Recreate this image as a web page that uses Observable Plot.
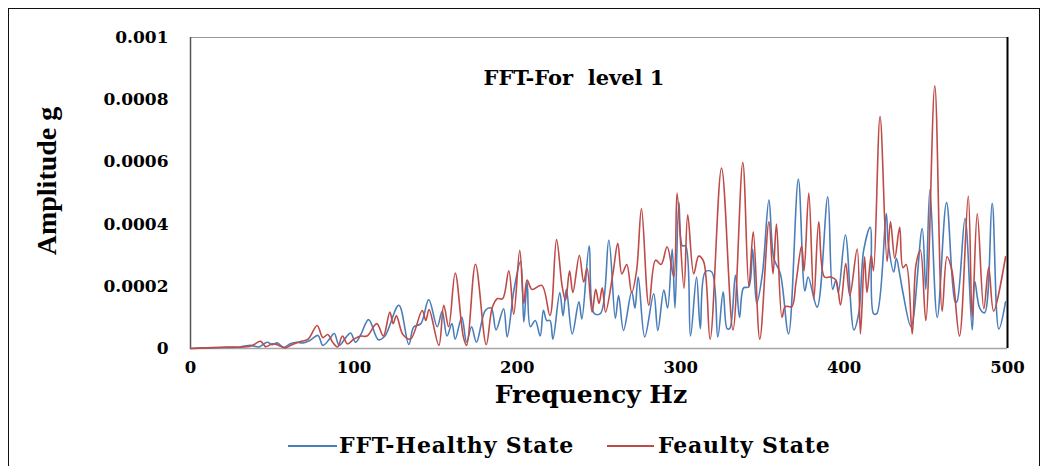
<!DOCTYPE html>
<html><head><meta charset="utf-8">
<script src="https://cdn.jsdelivr.net/npm/d3@7"></script>
<script src="https://cdn.jsdelivr.net/npm/@observablehq/plot@0.6"></script>
<style>
body{margin:0;background:#fff;}
#wrap{position:relative;width:1043px;height:466px;overflow:hidden;background:#fff;}
#frame{position:absolute;left:8px;top:8px;width:1032px;height:470px;border:1.5px solid #111;box-sizing:border-box;pointer-events:none;}
.lg-line{position:absolute;height:2px;}
.lg-text{position:absolute;font:bold 22px "DejaVu Serif",serif;letter-spacing:0.8px;line-height:22px;color:#000;white-space:pre;}
svg text{white-space:pre;}
</style>
</head><body>
<div id="wrap">
  <div id="chart"></div>
  <div id="frame"></div>
  <div class="lg-line" style="left:288px;top:445px;width:49px;background:#4a7ebb"></div>
  <div class="lg-text" style="left:339px;top:434px">FFT-Healthy State</div>
  <div class="lg-line" style="left:607px;top:445px;width:47px;background:#be4b48"></div>
  <div class="lg-text" style="left:658px;top:434px">Feaulty State</div>
</div>
<script>
// Amplitudes are in units of 1e-4 g; frequency in Hz
const ampUnit = 1e-4;
const healthy = [[0,0],[10,0.02],[20,0.03],[30,0.05],[37,0.1],[42,0.05],[47,0.2],[50,0.12],[53,0.18],[57,0.03],[61,0.15],[65,0.2],[69,0.18],[73,0.26],[78,0.42],[81,0.1],[85,0.3],[88,0.48],[91,0.1],[95,0.35],[98,0.5],[101,0.2],[104,0.42],[109,0.93],[115,0.28],[119,0.4],[127.5,1.39],[133.6,0.13],[136.6,0.69],[141,0.8],[145.8,1.57],[151,0.7],[154,1.2],[157,0.4],[160,0.8],[162,0.3],[166,1.0],[169,0.2],[172,0.7],[175,0.2],[180.5,1.23],[184,1.3],[187,0.6],[191.6,1.28],[193.8,0.37],[198,1.9],[202,2.8],[204,0.85],[206,2.14],[208,0.7],[211,0.9],[214,0.4],[216,1.23],[218,0.9],[220,0.9],[221.8,0.3],[226,1.8],[228,1.05],[230,1.9],[233.6,0.47],[237.7,1.5],[239.5,0.95],[244,3.3],[247,1.13],[251,1.13],[256,3.48],[260,0.97],[262,1.7],[265,0.58],[270,1.83],[272,1.3],[274,2.3],[278,0.37],[283.5,1.76],[286,0.58],[289.7,1.88],[292,1.3],[294.8,3.2],[296.5,1.3],[298.9,4.7],[301,3.3],[303,3.3],[306,0.4],[309.7,2.3],[312,0.64],[315,2.46],[319,2.46],[322.7,0.37],[326,1.82],[328.4,0.64],[330,0.64],[333.5,2.35],[336,1.0],[338.5,1.95],[341.6,1.98],[344,3.2],[346.5,1.45],[350,2.4],[354,4.77],[357,2.9],[361,2.4],[366,0.47],[372,5.44],[376,1.85],[378,2.3],[383.5,1.33],[390,4.88],[393,1.9],[395,2.2],[396.5,1.8],[400.8,3.65],[406,0.6],[409,1.15],[412,3.16],[416,3.9],[418,1.12],[420,1.12],[425.8,4.34],[427,3.4],[430.4,2.46],[432,2.9],[434,2.4],[436,1.8],[441,0.7],[447.8,3.86],[450,1.9],[452.5,5.1],[457,1.0],[462.7,4.69],[468,1.5],[469,1.5],[474,4.18],[478.4,0.6],[480,2.15],[483,1.3],[486,1.15],[490.6,4.67],[494.7,0.63],[498.8,1.5]];
const faulty = [[0,0],[10,0.02],[20,0.04],[24.5,0.05],[30,0.04],[37,0.08],[43,0.23],[46,0.06],[50,0.15],[54,0.1],[58,0.02],[62,0.12],[67,0.22],[72,0.3],[77.5,0.74],[81,0.35],[84,0.45],[87,0.2],[90,0.05],[93,0.4],[96,0.15],[100,0.3],[104,0.4],[108,0.4],[114,0.8],[118,0.4],[122,1.17],[124,0.8],[126,1.05],[130,0.45],[134.6,0.3],[141.8,1.22],[144,0.9],[146,1.25],[152,0.1],[155,1.39],[158,0.7],[162,2.43],[167,0.37],[169,0.1],[174.4,2.71],[181,0.13],[184.6,1.3],[187.7,1.6],[191,1.6],[194.8,2.5],[197.8,1.1],[201.5,3.16],[204,1.45],[206,2.2],[209,1.9],[215,2.03],[220,1.06],[224,3.5],[227.5,1.98],[229.5,1.55],[232,2.5],[234,1.8],[238,3.0],[240.6,2.14],[242.7,2.57],[245.8,1.17],[248,1.9],[250,1.45],[252,1.95],[254,1.17],[258.5,2.4],[261.5,3.38],[264,2.4],[267,2.7],[270,1.8],[273,2.5],[276,4.5],[280.5,1.39],[284.6,2.84],[288,2.7],[291.7,3.27],[295.8,2.3],[297.8,5.0],[302,1.94],[304.3,4.3],[308,2.4],[311,2.97],[314,2.8],[318,0.3],[325,5.8],[332,0.6],[338,5.98],[341.7,2.0],[344.4,3.75],[348.4,0.3],[354,4.07],[356.5,2.4],[358.6,4.0],[362,1.0],[364,1.35],[368,1.35],[370.5,2.1],[374,3.3],[375.5,2.5],[378.4,5.0],[381.5,1.6],[384.5,4.07],[388,2.3],[392,2.3],[395,2.2],[397.8,1.4],[401,2.73],[403.5,1.7],[408,3.2],[410,0.47],[412.5,2.95],[414,1.8],[416.6,3.0],[418,2.5],[422,7.46],[426.3,2.8],[428.4,4.07],[431,2.9],[434,3.9],[436,2.6],[438,2.7],[441.7,0.47],[444,2.7],[446.7,3.16],[450,0.9],[455.5,8.45],[460,1.2],[463,2.95],[466,2.5],[470.6,0.4],[476,4.9],[478.4,1.0],[481.5,4.34],[485.5,1.28],[488.5,2.6],[491.5,1.2],[498.8,2.95]];
const xTicks = [0, 100, 200, 300, 400, 500];
const yTicks = [0, 0.0002, 0.0004, 0.0006, 0.0008, 0.001];
const yTickLabels = ["0", "0.0002", "0.0004", "0.0006", "0.0008", "0.001"];
const titleText = "FFT-For  level 1";
const xTitle = "Frequency Hz";
const yTitle = "Amplitude g";

const toRows = (pts) => pts.map(([f, a]) => ({f, a: a * ampUnit}));

const chart = Plot.plot({
  width: 1043,
  height: 466,
  marginLeft: 190,
  marginRight: 36,
  marginTop: 37,
  marginBottom: 118,
  style: {fontFamily: "'DejaVu Serif', serif", fontWeight: "bold", fontSize: "16px", color: "#000", background: "#fff"},
  x: {domain: [0, 500]},
  y: {domain: [0, 0.001]},
  marks: [
    Plot.axisX({ticks: xTicks, tickSize: 0, tickPadding: 13, label: null, fontSize: 16.5}),
    Plot.axisY({ticks: yTicks, tickSize: 0, tickPadding: 22, label: null, fontSize: 17,
      tickFormat: (d) => yTickLabels[yTicks.indexOf(d)] ?? String(d)}),
    Plot.ruleY([0.001], {stroke: "#9a9a9a", strokeWidth: 1}),
    Plot.ruleY([0], {stroke: "#a6a6a6", strokeWidth: 1.5}),
    Plot.ruleX([0], {stroke: "#555", strokeWidth: 1.5}),
    Plot.ruleX([500], {stroke: "#000", strokeWidth: 2}),
    Plot.line(toRows(healthy), {x: "f", y: "a", stroke: "#4a7ebb", strokeWidth: 1.6, curve: "catmull-rom"}),
    Plot.line(toRows(faulty), {x: "f", y: "a", stroke: "#be4b48", strokeWidth: 1.6, curve: "catmull-rom"}),
    Plot.text([titleText], {text: d => d, frameAnchor: "top", dx: -25, dy: 33, fontSize: 21, fontWeight: "bold"}),
    Plot.text([xTitle], {text: d => d, frameAnchor: "bottom", dx: -8, dy: 54, fontSize: 25, fontWeight: "bold"}),
    Plot.text([yTitle], {text: d => d, frameAnchor: "left", textAnchor: "middle", dx: -143, dy: -12, rotate: -90, fontSize: 28, fontWeight: "bold", fontFamily: "'Liberation Serif', serif"})
  ]
});
document.getElementById("chart").appendChild(chart);
</script>
</body></html>
